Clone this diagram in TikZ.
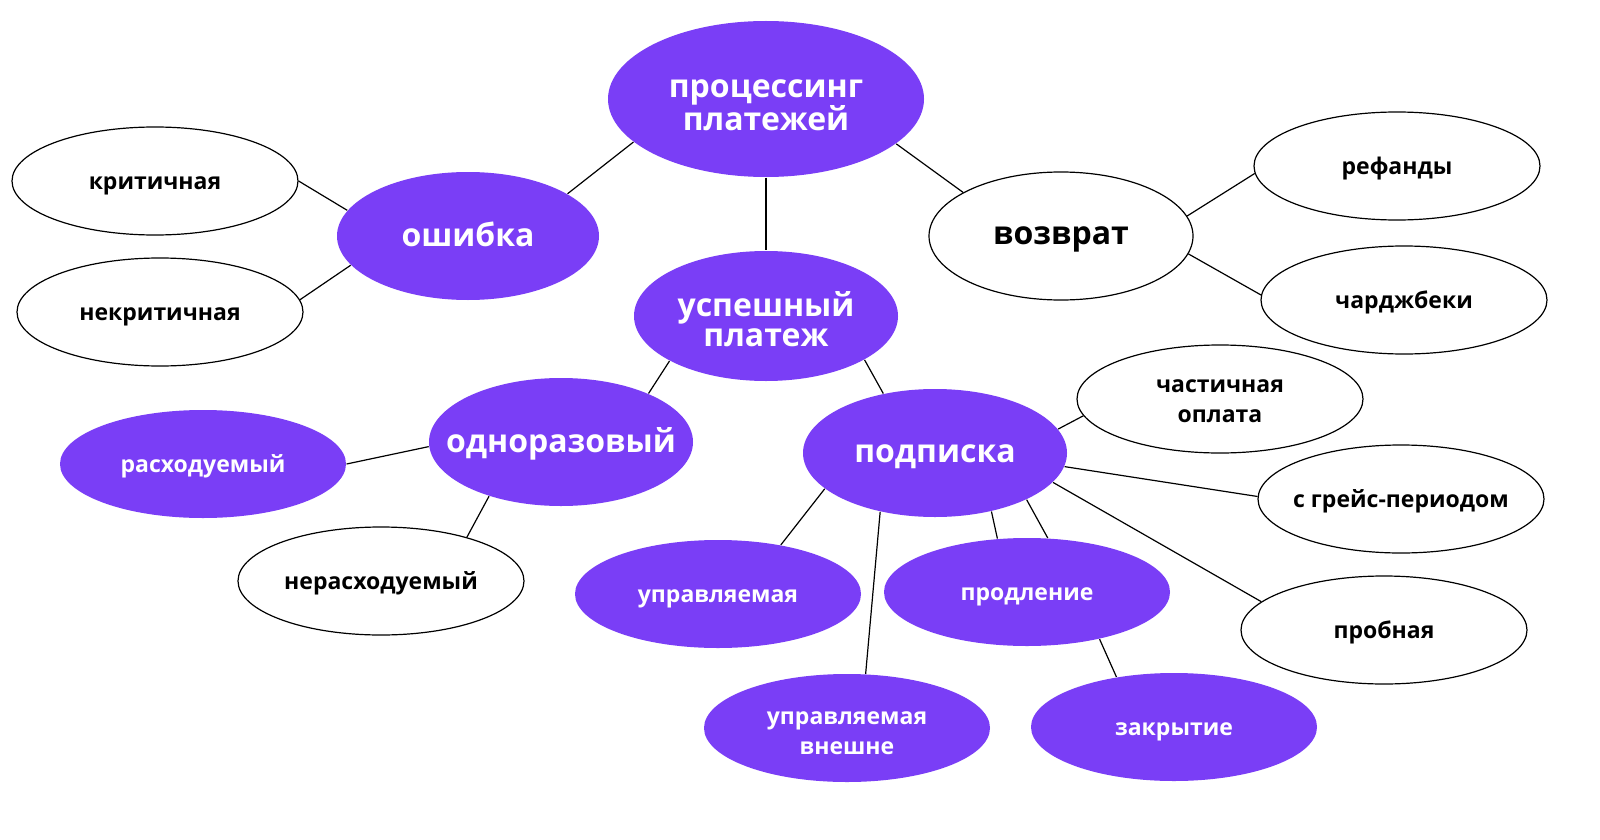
\documentclass[tikz,border=0pt]{standalone}
\usepackage{fontspec}
\setmainfont{Open Sans}
\usetikzlibrary{shapes.geometric}
\definecolor{vio}{HTML}{7A3EF6}
\newcommand{\lbl}[2][1pt]{\makebox[0pt]{\raisebox{-#1}[\height][\depth]{\begin{tabular}{@{}c@{}}#2\end{tabular}}}}
\begin{document}
\begin{tikzpicture}[x=0.5pt,y=-0.5pt,
  base/.style={ellipse, inner sep=0pt, line width=0.6pt},
  bigv/.style={base, fill=vio, text=white, font=\bfseries\fontsize{16}{15}\selectfont, minimum width=264pt, minimum height=64pt},
  bigw/.style={base, draw=black, fill=white, text=black, font=\bfseries\fontsize{16}{15}\selectfont, minimum width=264pt, minimum height=64pt},
  smv/.style={base, fill=vio, text=white, font=\bfseries\fontsize{11.5}{15}\selectfont, minimum width=143pt, minimum height=54pt},
  smw/.style={base, draw=black, fill=white, text=black, font=\bfseries\fontsize{11.5}{15}\selectfont, minimum width=143pt, minimum height=54pt},
  link/.style={line width=0.6pt, draw=black}]
\useasboundingbox (0,0) rectangle (1600,840);
\fill[white] (0,0) rectangle (1600,840);

\node[bigv, minimum width=158pt, minimum height=78pt] (root) at (766,99) {\lbl[4.5pt]{процессинг\\платежей}};
\node[bigv, minimum width=131pt] (err) at (468,236) {\lbl[1.5pt]{ошибка}};
\node[smw] (crit) at (155,181) {\lbl{критичная}};
\node[smw] (ncrit) at (160,312) {\lbl{некритичная}};
\node[bigw, minimum width=132pt] (ret) at (1061,236) {\lbl[1pt]{возврат}};
\node[smw] (ref) at (1397,166) {\lbl{рефанды}};
\node[smw] (chb) at (1404,300) {\lbl{чарджбеки}};
\node[bigv, minimum width=132pt, minimum height=65pt] (ok) at (766,316) {\lbl[4pt]{успешный\\платеж}};
\node[bigv, minimum width=132pt] (once) at (561,442) {\lbl[1.5pt]{одноразовый}};
\node[smv] (cons) at (203,464) {\lbl{расходуемый}};
\node[smw] (ncons) at (381,581) {\lbl{нерасходуемый}};
\node[bigv, minimum width=132pt] (sub) at (935,453) {\lbl[1.5pt]{подписка}};
\node[smw] (part) at (1220,399) {\lbl[1pt]{частичная\\оплата}};
\node[smw] (grace) at (1401,499) {\lbl{с грейс-периодом}};
\node[smw] (trial) at (1384,630) {\lbl{пробная}};
\node[smv] (man) at (718,594) {\lbl{управляемая}};
\node[smv] (ren) at (1027,592) {\lbl{продление}};
\node[smv] (ext) at (847,728) {\lbl[2.5pt]{управляемая\\внешне}};
\node[smv] (cls) at (1174,727) {\lbl{закрытие}};

\draw[link] (root.198.3) -- (err.23.3);
\draw[link] (root.270) -- (ok.90);
\draw[link] (root.341.4) -- (ret.156.5);
\draw[link] (err.168.3) -- (crit.0);
\draw[link] (err.194.5) -- (ncrit.5.7);
\draw[link] (ret.9.75) -- (ref.183.6);
\draw[link] (ret.352.5) -- (chb.178.4);
\draw[link] (ok.205.6) -- (once.29.6);
\draw[link] (ok.336) -- (sub.131.3);
\draw[link] (once.182.6) -- (cons.0);
\draw[link] (once.217.4) -- (ncons.27.7);
\draw[link] (sub.198) -- (man.38.3);
\draw[link] (sub.227) -- (ext.71.9);
\draw[link] (sub.314.5) -- (ren.119);
\draw[link] (sub.333.2) -- (ren.69);
\draw[link] (sub.11.4) -- (part.187);
\draw[link] (sub.354.3) -- (grace.179.6);
\draw[link] (sub.346) -- (trial.167);
\draw[link] (ren.327) -- (cls.139.5);
\end{tikzpicture}
\end{document}
